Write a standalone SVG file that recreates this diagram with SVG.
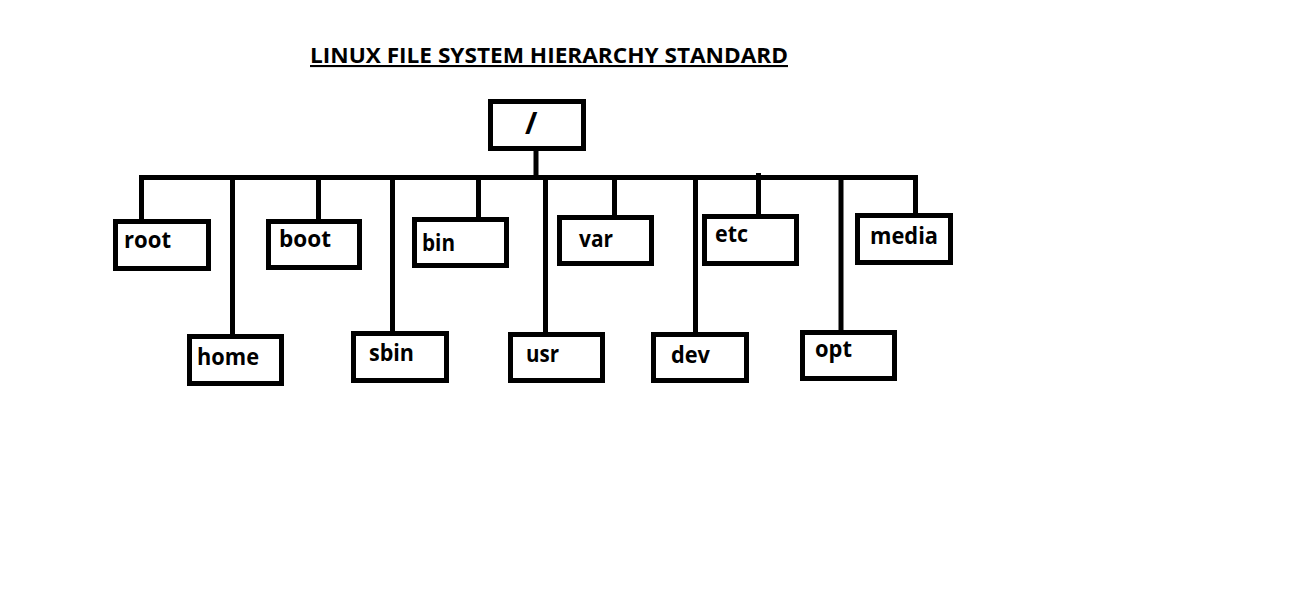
<svg xmlns="http://www.w3.org/2000/svg" width="1298" height="600" viewBox="0 0 1298 600">
<style>
.box{fill:#fff;stroke:#000;stroke-width:5}
.ln{stroke:#000;stroke-width:5;fill:none}
.lbl{font-family:"Open Sans","Liberation Sans",sans-serif;font-weight:bold;font-size:24px;fill:#000}
.title{font-family:"Open Sans","Liberation Sans",sans-serif;font-weight:bold;font-size:21px;fill:#000;text-decoration:underline}
</style>
<rect width="1298" height="600" fill="#fff"/>
<text class="title" x="310" y="63" textLength="478" lengthAdjust="spacingAndGlyphs">LINUX FILE SYSTEM HIERARCHY STANDARD</text>
<g id="connectors">
<line class="ln" x1="536" y1="151" x2="536" y2="177"/>
<line class="ln" x1="139" y1="177.5" x2="918" y2="177.5"/>
<line class="ln" x1="141.5" y1="175" x2="141.5" y2="219"/>
<line class="ln" x1="232.5" y1="177" x2="232.5" y2="334"/>
<line class="ln" x1="318.5" y1="177" x2="318.5" y2="219"/>
<line class="ln" x1="392.5" y1="177" x2="392.5" y2="331"/>
<line class="ln" x1="478.5" y1="177" x2="478.5" y2="217"/>
<line class="ln" x1="545.5" y1="177" x2="545.5" y2="332"/>
<line class="ln" x1="614.5" y1="177" x2="614.5" y2="215"/>
<line class="ln" x1="695.5" y1="177" x2="695.5" y2="332"/>
<line class="ln" x1="758.5" y1="173" x2="758.5" y2="214"/>
<line class="ln" x1="841" y1="177" x2="841" y2="330"/>
<line class="ln" x1="915.5" y1="175" x2="915.5" y2="213"/>
</g>
<g id="node-root-dir"><rect class="box" x="490.5" y="101.5" width="93" height="47"/><text class="lbl" x="525" y="134" style="font-size:30px">/</text></g>
<g id="node-root"><rect class="box" x="115.5" y="221.5" width="93" height="47"/><text class="lbl" x="124" y="248" textLength="47" lengthAdjust="spacingAndGlyphs">root</text></g>
<g id="node-home"><rect class="box" x="189.5" y="336.5" width="92" height="47"/><text class="lbl" x="197" y="365" textLength="62" lengthAdjust="spacingAndGlyphs">home</text></g>
<g id="node-boot"><rect class="box" x="268.5" y="221.5" width="91" height="46"/><text class="lbl" x="279" y="247" textLength="52" lengthAdjust="spacingAndGlyphs">boot</text></g>
<g id="node-sbin"><rect class="box" x="353.5" y="333.5" width="93" height="47"/><text class="lbl" x="369" y="361" textLength="45" lengthAdjust="spacingAndGlyphs">sbin</text></g>
<g id="node-bin"><rect class="box" x="414.5" y="219.5" width="92" height="46"/><text class="lbl" x="422" y="251" textLength="33" lengthAdjust="spacingAndGlyphs">bin</text></g>
<g id="node-usr"><rect class="box" x="510.5" y="334.5" width="92" height="46"/><text class="lbl" x="526" y="362" textLength="33" lengthAdjust="spacingAndGlyphs">usr</text></g>
<g id="node-var"><rect class="box" x="559.5" y="217.5" width="92" height="46"/><text class="lbl" x="579" y="247" textLength="34" lengthAdjust="spacingAndGlyphs">var</text></g>
<g id="node-dev"><rect class="box" x="653.5" y="334.5" width="93" height="46"/><text class="lbl" x="671" y="363" textLength="39" lengthAdjust="spacingAndGlyphs">dev</text></g>
<g id="node-etc"><rect class="box" x="704.5" y="216.5" width="92" height="47"/><text class="lbl" x="715" y="242" textLength="33" lengthAdjust="spacingAndGlyphs">etc</text></g>
<g id="node-opt"><rect class="box" x="802.5" y="332.5" width="92" height="46"/><text class="lbl" x="815" y="357" textLength="37" lengthAdjust="spacingAndGlyphs">opt</text></g>
<g id="node-media"><rect class="box" x="857.5" y="215.5" width="93" height="47"/><text class="lbl" x="870" y="244" textLength="68" lengthAdjust="spacingAndGlyphs">media</text></g>
</svg>
